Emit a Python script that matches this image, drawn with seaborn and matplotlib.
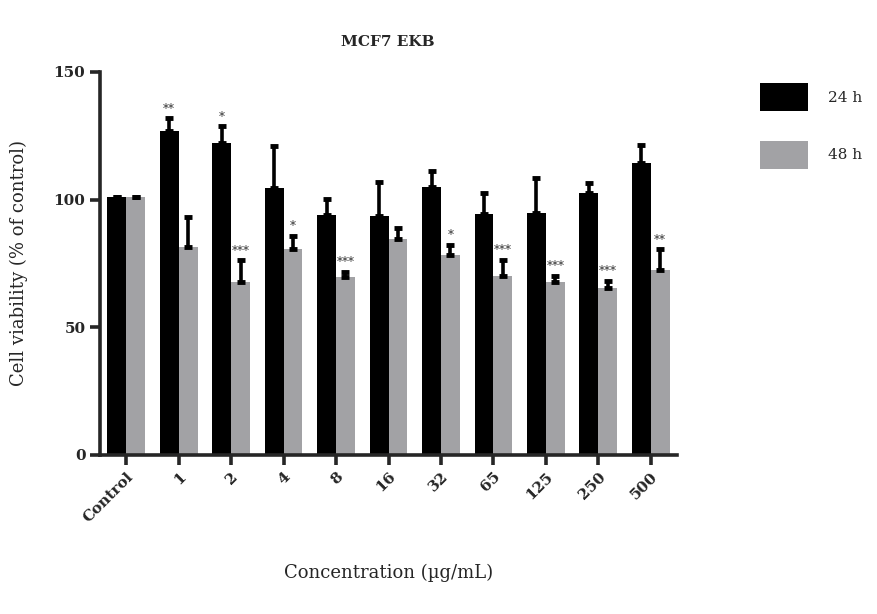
import pandas as pd
import matplotlib
matplotlib.use("Agg")
import matplotlib.pyplot as plt
import seaborn as sns

# valores (% do controle)
concentracoes = ["Control", "1", "2", "4", "8", "16", "32", "65", "125", "250", "500"]
viab_24h = [101, 126.8, 122.1, 104.6, 93.8, 93.6, 104.9, 94.3, 94.6, 102.6, 114.5]
viab_48h = [101, 81.6, 67.7, 80.7, 69.6, 84.4, 78.1, 70.1, 67.7, 65.2, 72.5]
erro_24h = [0, 5.0, 6.5, 16.2, 6.4, 13.4, 6.1, 8.1, 13.7, 4.0, 6.9]
erro_48h = [0, 11.5, 8.5, 5.0, 2.1, 4.5, 4.3, 6.4, 2.5, 2.9, 8.0]
sig_24h = ["", "**", "*", "", "", "", "", "", "", "", ""]
sig_48h = ["", "", "***", "*", "***", "", "*", "***", "***", "***", "**"]
tempos = ["24 h", "48 h"]
cores = ["#000000", "#a2a1a6"]


def main():
    df = pd.DataFrame({
        "conc": concentracoes * 2,
        "tempo": [tempos[0]] * len(concentracoes) + [tempos[1]] * len(concentracoes),
        "viab": viab_24h + viab_48h,
    })

    sns.set_style("ticks")
    plt.rcParams["font.family"] = ["DejaVu Serif"]

    fig = plt.figure(figsize=(8.77, 6.14), dpi=100)
    ax = fig.add_axes([0.114, 0.259, 0.658, 0.624])

    sns.barplot(
        data=df, x="conc", y="viab", hue="tempo",
        palette=cores, width=0.72, errorbar=None,
        edgecolor="none", ax=ax,
    )

    # barras de erro só para cima + asteriscos de significância
    for cont, erros, sigs in zip(ax.containers, [erro_24h, erro_48h], [sig_24h, sig_48h]):
        xs = [p.get_x() + p.get_width() / 2 for p in cont.patches]
        ys = [p.get_height() for p in cont.patches]
        ax.errorbar(
            xs, ys, yerr=[[0] * len(erros), erros], fmt="none",
            ecolor="black", elinewidth=2.6, capsize=3, capthick=3.5,
        )
        for x, y, e, s in zip(xs, ys, erros, sigs):
            if s:
                ax.annotate(s, (x, y + e), xytext=(0, 2), textcoords="offset points",
                            ha="center", va="bottom", fontsize=8.5, color="#333333")

    ax.set_ylim(0, 150)
    ax.set_xlim(-0.5, len(concentracoes) - 0.5)
    ax.set_yticks([0, 50, 100, 150])
    sns.despine(ax=ax)
    for lado in ["left", "bottom"]:
        ax.spines[lado].set_linewidth(2.6)
    ax.tick_params(axis="both", width=2.6, length=7, labelsize=11)
    for lbl in ax.get_yticklabels():
        lbl.set_fontweight("bold")
    ax.set_xticks(range(len(concentracoes)))
    ax.set_xticklabels(concentracoes, rotation=45, ha="right",
                       rotation_mode="anchor", fontweight="bold")

    ax.set_xlabel("Concentration (µg/mL)", fontsize=13)
    ax.xaxis.set_label_coords(0.5, -0.285)
    ax.set_ylabel("Cell viability (% of control)", fontsize=13)
    ax.yaxis.set_label_coords(-0.125, 0.5)

    fig.text(0.442, 0.932, "MCF7 EKB", ha="center", va="center",
             fontsize=11, fontweight="bold")

    ax.legend(
        title=None, loc="upper left", bbox_to_anchor=(0.867, 0.865),
        bbox_transform=fig.transFigure, frameon=False, fontsize=11,
        handlelength=3.1, handleheight=2.45, labelspacing=1.95,
        handletextpad=1.3, borderpad=0, borderaxespad=0,
    )

    fig.savefig("out.png", dpi=100)
    plt.close(fig)


if __name__ == "__main__":
    main()
